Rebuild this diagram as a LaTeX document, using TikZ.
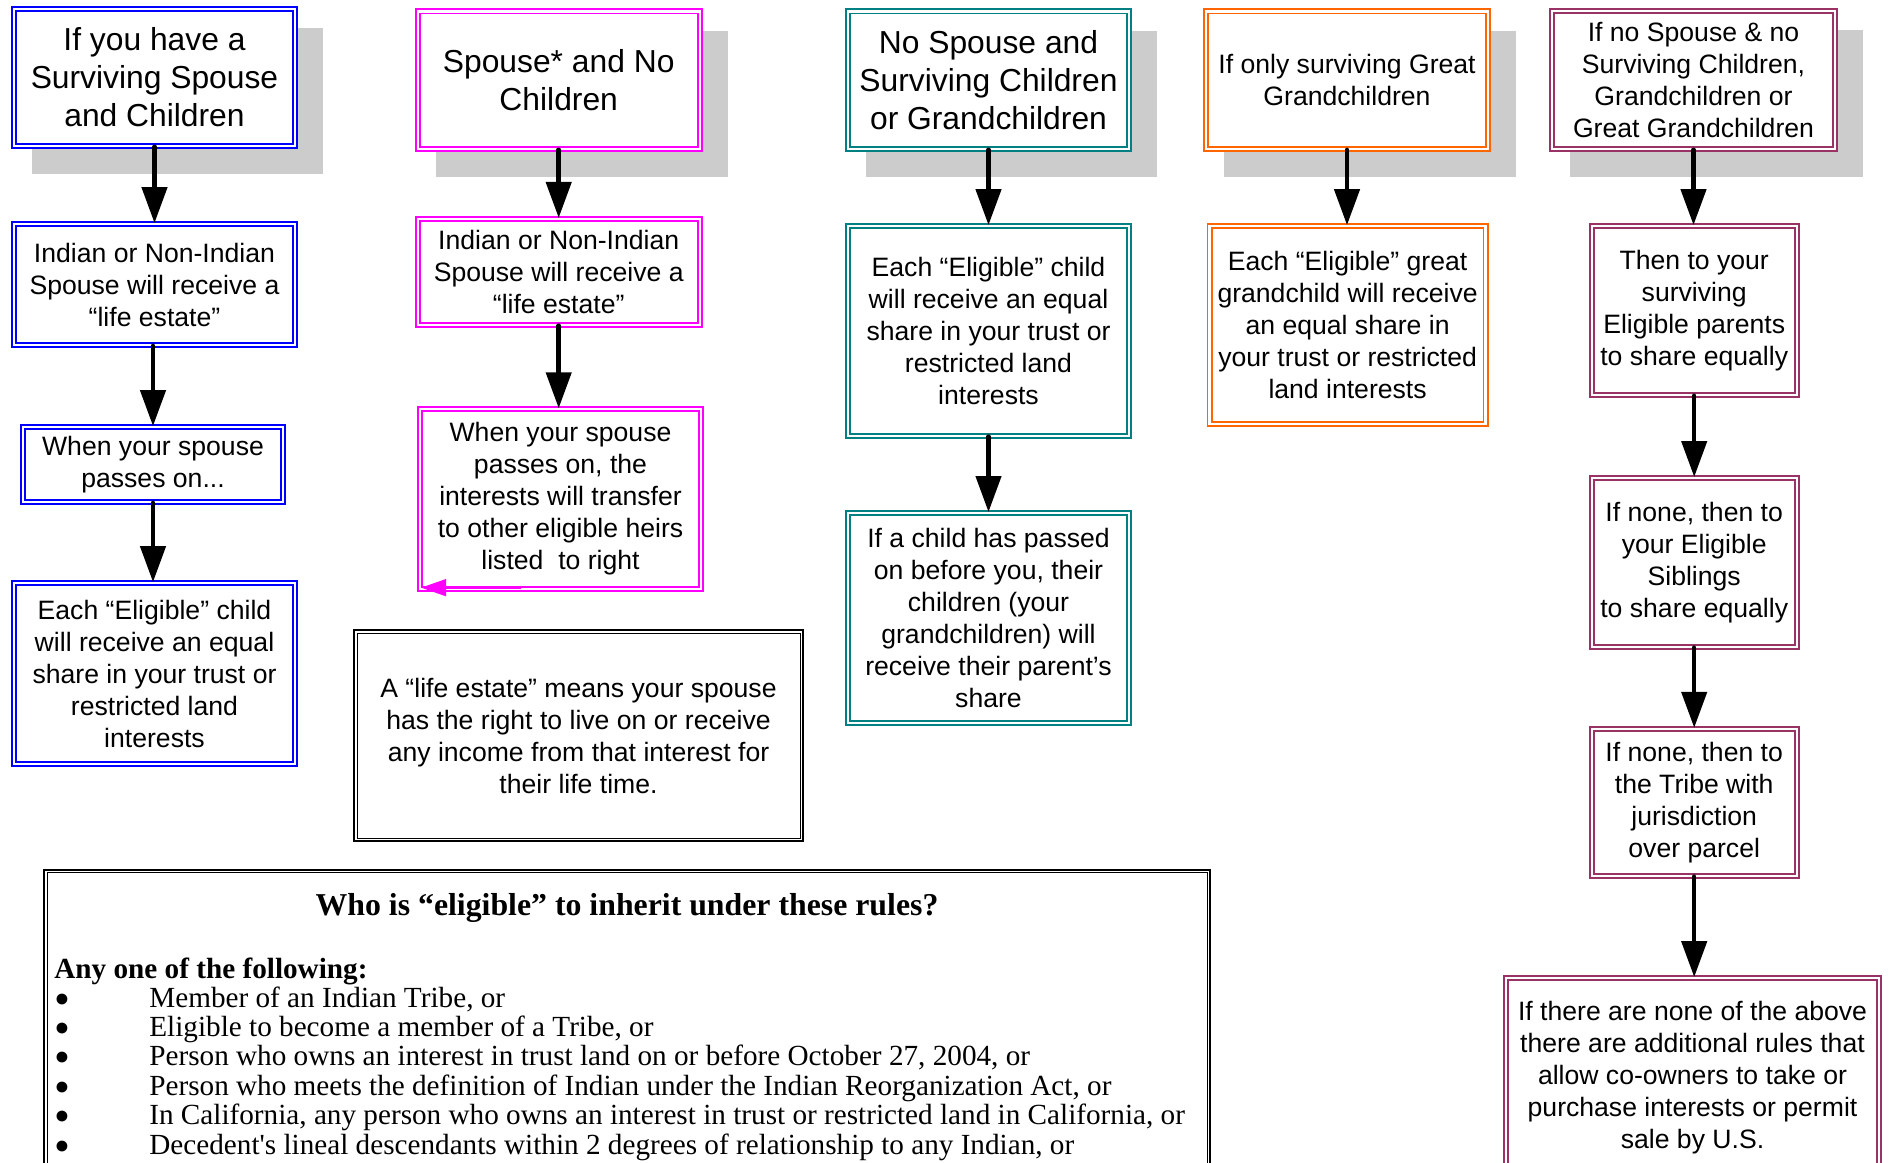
\documentclass[tikz,border=0pt]{standalone}
\usepackage{fontspec}
\setmainfont{Liberation Sans}
\newfontfamily\timesfont{Liberation Serif}
\usetikzlibrary{arrows.meta,backgrounds}
\definecolor{cblue}{RGB}{0,0,255}
\definecolor{cmag}{RGB}{255,0,255}
\definecolor{cteal}{RGB}{0,128,128}
\definecolor{corange}{RGB}{255,102,0}
\definecolor{cplum}{RGB}{153,51,102}
\definecolor{shadowgray}{RGB}{204,204,204}
\newcommand{\mybul}{\makebox[47.5pt][l]{\smash{\raisebox{-3.6pt}{\scalebox{1.55}{•}}}}}
\tikzset{
  dbox/.style={draw=#1, line width=0.9pt, double=white, double distance=1.2pt, fill=white, align=center, inner sep=2pt},
  headtxt/.style={font=\fontsize{15.9}{19}\selectfont},
  smalltxt/.style={font=\fontsize{13.3}{16}\selectfont},
  sz/.style 2 args={minimum width=#1pt, minimum height=#2pt},
  arr/.style={line width=2.25pt, line cap=round, -{Triangle[length=18pt,width=12.5pt]}},
  blackbox/.style={draw=black, line width=1.1pt, fill=white},
  innerline/.style={draw=black, line width=0.5pt},
  btxt/.style={font=\timesfont\fontsize{14.6}{14.7}\selectfont, anchor=base west, inner sep=0pt},
}
\begin{document}
\begin{tikzpicture}[x=0.5pt,y=-0.5pt]
\useasboundingbox (0,0) rectangle (1890,1162);
\clip (0,0) rectangle (1890,1162);

% column 1 (blue)
\node[dbox=cblue, headtxt, sz={140.5}{68.5}] (b1) at (154.5,77.5) {If you have a\\Surviving Spouse\\and Children};
\node[dbox=cblue, smalltxt, sz={140.5}{60.5}] (b2) at (154.5,284.5) {Indian or Non-Indian\\Spouse will receive a\\“life estate”};
\node[dbox=cblue, smalltxt, sz={130}{37.5}] (b3) at (153,464.5) {When your spouse\\passes on...};
\node[dbox=cblue, smalltxt, sz={140.5}{90.5}] (b4) at (154.5,673.5) {Each “Eligible” child\\will receive an equal\\share in your trust or\\restricted land\\interests};

% column 2 (magenta)
\node[dbox=cmag, headtxt, sz={141}{68.75}] (c1) at (558.7,80.2) {Spouse* and No\\Children};
\node[dbox=cmag, smalltxt, sz={141}{53}] (c2) at (558.7,271.8) {Indian or Non-Indian\\Spouse will receive a\\“life estate”};
\node[dbox=cmag, smalltxt, sz={140.5}{89.85}] (c3) at (560.5,499) {When your spouse\\passes on, the\\interests will transfer\\to other eligible heirs\\listed~ to right};

% definition box
\node[blackbox, smalltxt, align=center, sz={224.4}{105.4}] (d) at (578.5,735.5) {A “life estate” means your spouse\\has the right to live on or receive\\any income from that interest for\\their life time.};
\draw[innerline] ([shift={(4,4)}]d.north west) rectangle ([shift={(-4,-4)}]d.south east);

% column 3 (teal)
\node[dbox=cteal, headtxt, sz={140.5}{68.75}] (e1) at (988.5,80.2) {No Spouse and\\Surviving Children\\or Grandchildren};
\node[dbox=cteal, smalltxt, sz={140.5}{104.9}] (e2) at (988.5,330.9) {Each “Eligible” child\\will receive an equal\\share in your trust or\\restricted land\\interests};
\node[dbox=cteal, smalltxt, sz={140.5}{104.9}] (e3) at (988.5,617.8) {If a child has passed\\on before you, their\\children (your\\grandchildren) will\\receive their parent’s\\share};

% column 4 (orange)
\node[dbox=corange, smalltxt, sz={141}{68.75}] (f1) at (1347,80.2) {If only surviving Great\\Grandchildren};
\node[dbox=corange, smalltxt, sz={138}{98.85}] (f2) at (1347.6,324.9) {Each “Eligible” great\\grandchild will receive\\an equal share in\\your trust or restricted\\land interests};

% column 5 (plum)
\node[dbox=cplum, smalltxt, sz={141.5}{69}] (g1) at (1693.5,80) {If no Spouse \& no\\Surviving Children,\\Grandchildren or\\Great Grandchildren};
\node[dbox=cplum, smalltxt, sz={102.5}{84.4}] (g2) at (1694.2,310.4) {Then to your\\surviving\\Eligible parents\\to share equally};
\node[dbox=cplum, smalltxt, sz={102.5}{84.4}] (g3) at (1694.2,562.3) {If none, then to\\your Eligible\\Siblings\\to share equally};
\node[dbox=cplum, smalltxt, sz={102.5}{73.5}] (g4) at (1694.2,802.2) {If none, then to\\the Tribe with\\jurisdiction\\over parcel};
\node[dbox=cplum, smalltxt, sz={186.5}{99.5}] (g5) at (1692.5,1077.5) {If there are none of the above\\there are additional rules that\\allow co-owners to take or\\purchase interests or permit\\sale by U.S.};

% eligibility box
\node[blackbox, sz={582.9}{170}] (h) at (627,1040) {};
\draw[innerline] ([shift={(4,4)}]h.north west) rectangle ([shift={(-4,-4)}]h.south east);
\node[font=\timesfont\bfseries\fontsize{15.9}{18}\selectfont, anchor=base, inner sep=0pt] (ht) at (627,915) {Who is “eligible” to inherit under these rules?};
\node[font=\timesfont\bfseries\fontsize{14.6}{14.7}\selectfont, anchor=base west, inner sep=0pt] (hs) at (54,978) {Any one of the following:};
\node[btxt] (i1) at (54,1007) {\mybul Member of an Indian Tribe, or};
\node[btxt] (i2) at (54,1036) {\mybul Eligible to become a member of a Tribe, or};
\node[btxt] (i3) at (54,1065) {\mybul Person who owns an interest in trust land on or before October 27, 2004, or};
\node[btxt] (i4) at (54,1095) {\mybul Person who meets the definition of Indian under the Indian Reorganization Act, or};
\node[btxt] (i5) at (54,1124) {\mybul In California, any person who owns an interest in trust or restricted land in California, or};
\node[btxt] (i6) at (54,1154) {\mybul Decedent's lineal descendants within 2 degrees of relationship to any Indian, or};

% arrows
\draw[arr] (b1.south) -- (b1.south |- b2.north);
\draw[arr] (b3.north |- b2.south) -- (b3.north);
\draw[arr] (b3.south) -- (b3.south |- b4.north);
\draw[arr] (c1.south) -- (c2.north);
\draw[arr] (c2.south) -- (c2.south |- c3.north);
\draw[arr] (e1.south) -- (e2.north);
\draw[arr] (e2.south) -- (e3.north);
\draw[arr] (f1.south) -- (f1.south |- f2.north);
\draw[arr] (g1.south) -- (g1.south |- g2.north);
\draw[arr] (g2.south) -- (g3.north);
\draw[arr] (g3.south) -- (g4.north);
\draw[arr] (g4.south) -- (g4.south |- g5.north);
\draw[cmag, line width=0.9pt, -{Triangle[length=12.5pt,width=8.5pt]}] ([shift={(-40,-2.1)}]c3.south) -- ([shift={(2.1,-2.1)}]c3.south west);

% shadows
\begin{scope}[on background layer]
\fill[white] (0,0) rectangle (1890,1162);
\foreach \n in {b1,c1,e1,f1,g1}
  \fill[shadowgray] ([shift={(19,20)}]\n.north west) rectangle ([shift={(27,27)}]\n.south east);
\end{scope}
\end{tikzpicture}
\end{document}
